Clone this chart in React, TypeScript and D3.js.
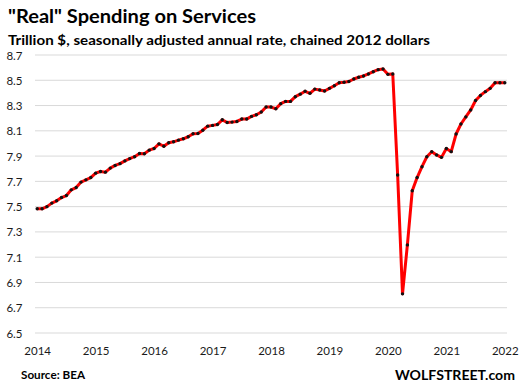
import React from "react";
import * as d3 from "d3";

const title = "\"Real\" Spending on Services";
const subtitle = "Trillion $, seasonally adjusted annual rate, chained 2012 dollars";
const source = "Source: BEA";
const brand = "WOLFSTREET.com";

const yearLabels = ["2014", "2015", "2016", "2017", "2018", "2019", "2020", "2021", "2022"];
const yTicks = [6.5, 6.7, 6.9, 7.1, 7.3, 7.5, 7.7, 7.9, 8.1, 8.3, 8.5, 8.7];

// Monthly values, Jan 2014 .. Jan 2022
const v2014 = [7.483, 7.483, 7.5, 7.528, 7.546, 7.572, 7.588, 7.633, 7.651, 7.694, 7.712, 7.73];
const v2015 = [7.765, 7.778, 7.773, 7.805, 7.826, 7.84, 7.862, 7.88, 7.895, 7.92, 7.918, 7.947];
const v2016 = [7.96, 7.997, 7.978, 8.005, 8.013, 8.026, 8.037, 8.053, 8.077, 8.079, 8.105, 8.137];
const v2017 = [8.143, 8.15, 8.187, 8.166, 8.169, 8.174, 8.193, 8.193, 8.214, 8.227, 8.249, 8.288];
const v2018 = [8.288, 8.275, 8.315, 8.333, 8.333, 8.37, 8.39, 8.413, 8.397, 8.43, 8.423, 8.415];
const v2019 = [8.436, 8.457, 8.48, 8.484, 8.49, 8.51, 8.524, 8.534, 8.55, 8.568, 8.584, 8.589];
const v2020 = [8.547, 8.55, 7.75, 6.81, 7.197, 7.626, 7.73, 7.816, 7.895, 7.935, 7.909, 7.89];
const v2021 = [7.96, 7.935, 8.075, 8.154, 8.21, 8.265, 8.34, 8.38, 8.41, 8.436, 8.48, 8.48];
const v2022 = [8.48];

const values = [...v2014, ...v2015, ...v2016, ...v2017, ...v2018, ...v2019, ...v2020, ...v2021, ...v2022];

const W = 520;
const H = 392;
const FONT = "Lato, 'Open Sans', 'Liberation Sans', sans-serif";

export default function App() {
  const x = d3.scaleLinear().domain([0, 96]).range([37.2, 504.8]);
  const y = d3.scaleLinear().domain([6.5, 8.7]).range([333, 55]);
  const line = d3
    .line<number>()
    .x((_, i) => x(i))
    .y((d) => y(d));

  return (
    <svg
      width={W}
      height={H}
      viewBox={`0 0 ${W} ${H}`}
      style={{ position: "absolute", left: 0, top: 0, background: "#fff" }}
      fontFamily={FONT}
    >
      <rect x={0} y={0} width={W} height={H} fill="#fff" />
      <text x={8} y={23} fontSize={19} fontWeight={700} fill="#000" textLength={248} lengthAdjust="spacingAndGlyphs">
        {title}
      </text>
      <text x={8} y={44.5} fontSize={13.5} fontWeight={700} fill="#000" textLength={422} lengthAdjust="spacingAndGlyphs">
        {subtitle}
      </text>

      {yTicks.map((t) => (
        <g key={t}>
          <line x1={35} x2={507} y1={y(t)} y2={y(t)} stroke="#d9d9d9" strokeWidth={1} />
          <text x={22.5} y={y(t) + 4.5} fontSize={11.5} textAnchor="end" fill="#1a1a1a">
            {t.toFixed(1)}
          </text>
        </g>
      ))}

      {yearLabels.map((lab, i) => (
        <text key={lab} x={x(i * 12) + 0.5} y={355} fontSize={11.5} textAnchor="middle" fill="#1a1a1a">
          {lab}
        </text>
      ))}

      <path d={line(values) || ""} fill="none" stroke="#ff0000" strokeWidth={3} strokeLinejoin="round" />
      {values.map((v, i) => (
        <circle key={i} cx={x(i)} cy={y(v)} r={1.7} fill="#111" />
      ))}

      <text x={21} y={379} fontSize={11} fontWeight={700} fill="#000" textLength={64} lengthAdjust="spacingAndGlyphs">
        {source}
      </text>
      <text x={395} y={380} fontSize={14} fontWeight={700} fill="#000" textLength={120} lengthAdjust="spacingAndGlyphs">
        {brand}
      </text>
    </svg>
  );
}
